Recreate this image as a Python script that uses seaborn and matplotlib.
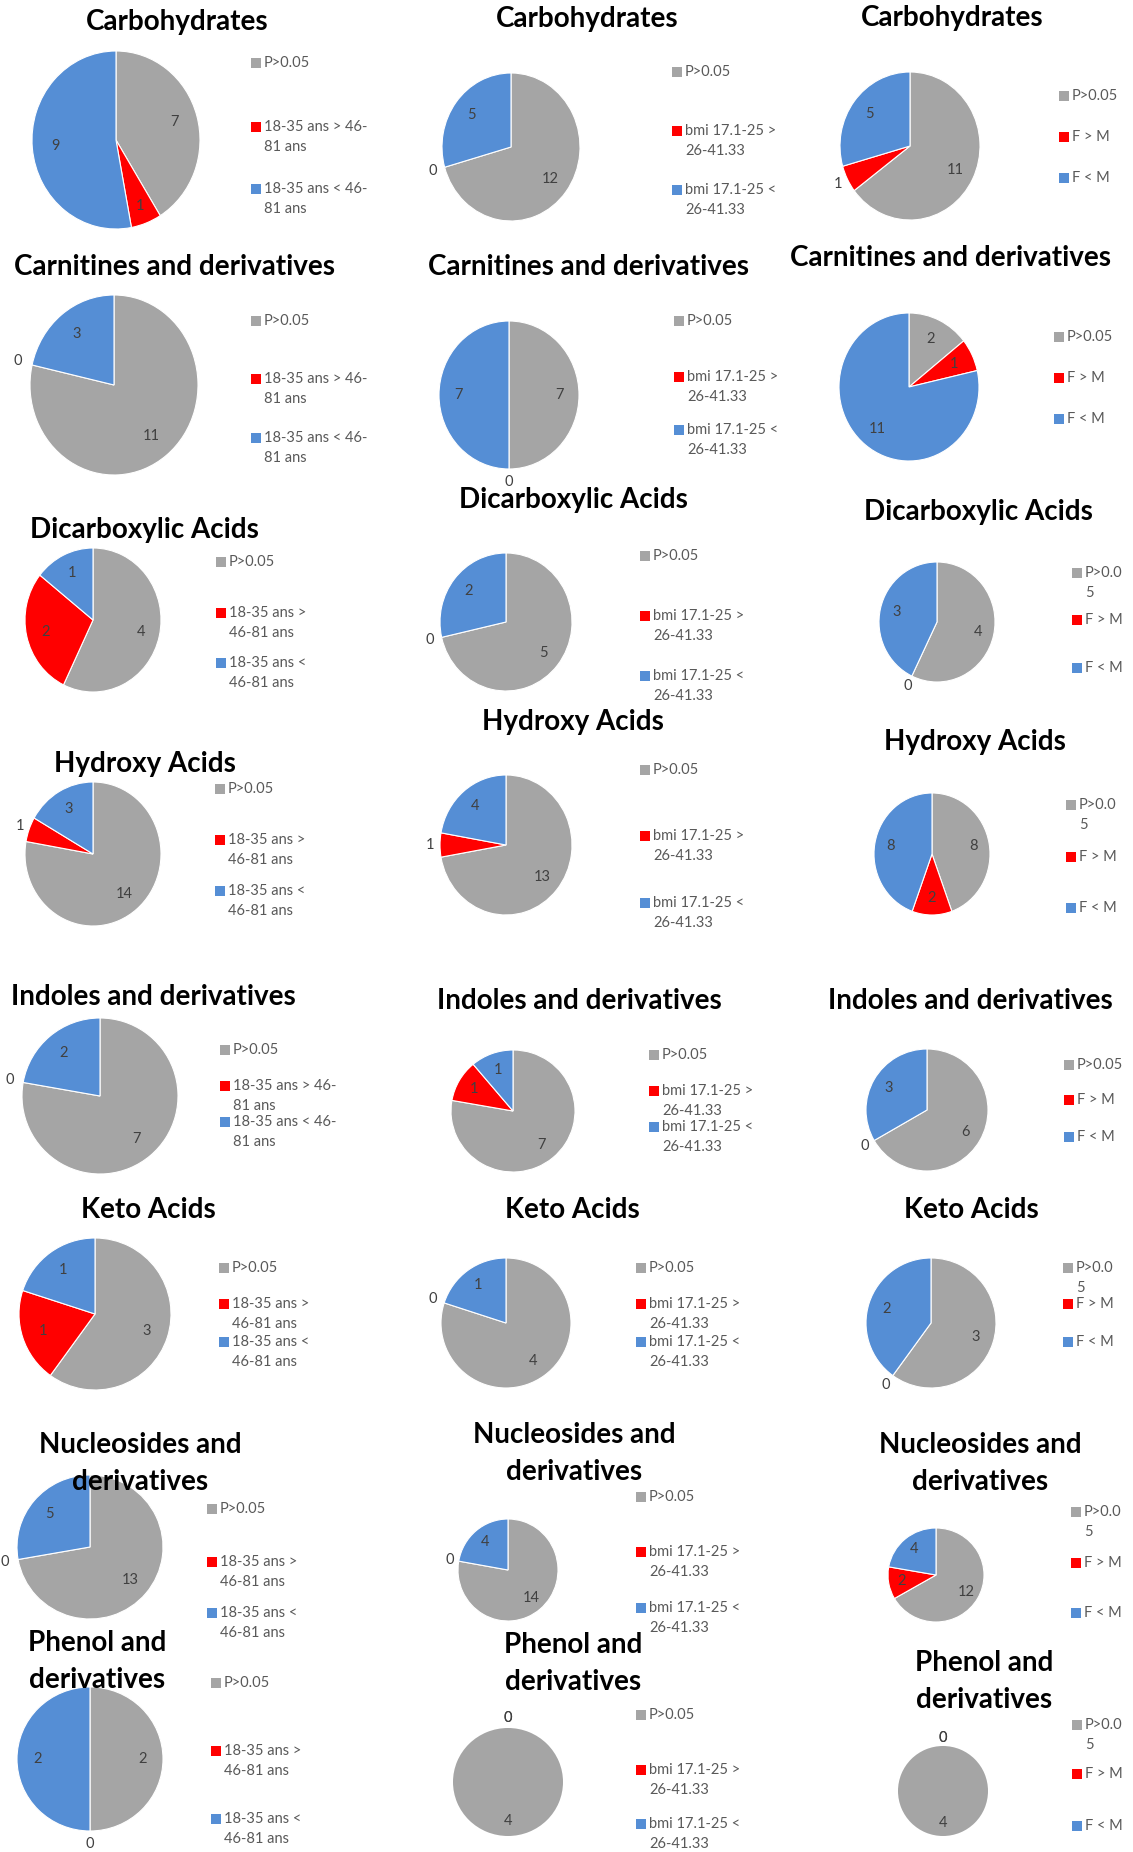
import numpy as np
import matplotlib
matplotlib.use("Agg")
import matplotlib.pyplot as plt
import seaborn as sns

# Données : nombre de métabolites par classe (P>0.05, groupe 1 > groupe 2, groupe 1 < groupe 2)
classes = ["Carbohydrates", "Carnitines and derivatives", "Dicarboxylic Acids", "Hydroxy Acids",
           "Indoles and derivatives", "Keto Acids", "Nucleosides and\nderivatives",
           "Phenol and\nderivatives"]

age_ns = [7, 11, 4, 14, 7, 3, 13, 2]
age_up = [1, 0, 2, 1, 0, 1, 0, 0]
age_down = [9, 3, 1, 3, 2, 1, 5, 2]

bmi_ns = [12, 7, 5, 13, 7, 4, 14, 4]
bmi_up = [0, 0, 0, 1, 1, 0, 0, 0]
bmi_down = [5, 7, 2, 4, 1, 1, 4, 0]

sex_ns = [11, 2, 4, 8, 6, 3, 12, 4]
sex_up = [1, 1, 0, 2, 0, 0, 2, 0]
sex_down = [5, 11, 3, 8, 3, 2, 4, 0]

legend_age_a = ["P>0.05", "18-35 ans > 46-\n81 ans", "18-35 ans < 46-\n81 ans"]
legend_age_b = ["P>0.05", "18-35 ans >\n46-81 ans", "18-35 ans <\n46-81 ans"]
legend_bmi = ["P>0.05", "bmi 17.1-25 >\n26-41.33", "bmi 17.1-25 <\n26-41.33"]
legend_sex_a = ["P>0.05", "F > M", "F < M"]
legend_sex_b = ["P>0.0\n5", "F > M", "F < M"]

colors = ["#A5A5A5", "#FF0000", "#558ED5"]

sns.set_theme(style="white")
plt.rcParams["font.family"] = ["Lato", "DejaVu Sans"]

W, H = 1133, 1852
fig = plt.figure(figsize=(W / 100, H / 100), dpi=100)
fig.patch.set_facecolor("white")

# mise en page (pixels) : titre (x, y), camembert (cx, cy, rx, ry), légende (x, [y1, y2, y3])
layout = [
    [((177, 22), (116, 140, 84, 89), (252, [63, 127, 189])),
     ((587, 19), (511, 147, 69, 74), (673, [72, 131, 190])),
     ((952, 18), (910, 146, 70, 74), (1060, [96, 137, 178]))],
    [((174, 267), (114, 385, 84, 90), (252, [321, 379, 438])),
     ((588, 267), (509, 395, 70, 74), (675, [321, 377, 430])),
     ((951, 258), (909, 387, 70, 74), (1055, [337, 378, 419]))],
    [((144, 530), (93, 620, 68, 72), (217, [562, 613, 663])),
     ((573, 500), (506, 622, 66, 69), (641, [556, 616, 676])),
     ((978, 512), (937, 622, 58, 60), (1073, [573, 620, 668]))],
    [((145, 764), (93, 854, 68, 72), (216, [789, 840, 891])),
     ((573, 722), (506, 845, 66, 70), (641, [770, 836, 903])),
     ((975, 742), (932, 854, 58, 61), (1067, [805, 857, 908]))],
    [((153, 997), (100, 1096, 78, 78), (221, [1050, 1086, 1122])),
     ((579, 1001), (513, 1111, 62, 61), (650, [1055, 1091, 1127])),
     ((970, 1001), (927, 1110, 61, 61), (1065, [1065, 1100, 1137]))],
    [((148, 1210), (95, 1314, 76, 76), (220, [1268, 1304, 1342])),
     ((572, 1210), (506, 1323, 65, 65), (637, [1268, 1304, 1342])),
     ((971, 1210), (931, 1323, 65, 65), (1064, [1268, 1304, 1342]))],
    [((140, 1445), (90, 1547, 73, 72), (208, [1509, 1562, 1613])),
     ((574, 1435), (508, 1570, 50, 51), (637, [1497, 1552, 1608])),
     ((980, 1445), (936, 1575, 48, 47), (1072, [1512, 1563, 1613]))],
    [((97, 1643), (90, 1759, 73, 72), (212, [1683, 1751, 1819])),
     ((573, 1645), (508, 1782, 55, 54), (637, [1715, 1770, 1824])),
     ((984, 1663), (943, 1791, 45, 45), (1073, [1725, 1774, 1826]))],
]

# calque pour titres et légendes
over = fig.add_axes([0, 0, 1, 1])
over.set_xlim(0, W)
over.set_ylim(H, 0)
over.axis("off")
over.set_zorder(10)
over.patch.set_alpha(0)


def draw_pie(values, pos):
    cx, cy, rx, ry = pos
    ax = fig.add_axes([(cx - rx) / W, 1 - (cy + ry) / H, 2 * rx / W, 2 * ry / H])
    wedges, _ = ax.pie(values, colors=colors, startangle=90, counterclock=False,
                       wedgeprops=dict(edgecolor="white", linewidth=0.8))
    ax.set_aspect("auto")
    ax.set_xlim(-1, 1)
    ax.set_ylim(-1, 1)
    total = sum(values)
    for w, v in zip(wedges, values):
        if v == 0 or v == total:
            w.set_linewidth(0)
        ang = np.deg2rad((w.theta1 + w.theta2) / 2)
        frac = v / total
        # étiquettes façon Excel "ajustement optimal"
        if v == 0:
            r = 1.18
        elif frac >= 0.07:
            r = 0.72
        elif np.cos(ang) < -0.3:
            r = 1.15
        else:
            r = 0.8
        ax.text(r * np.cos(ang), r * np.sin(ang), str(v), ha="center", va="center",
                fontsize=10.5, color="#404040", clip_on=False)


def draw_legend(labels, leg):
    x, ys = leg
    for lab, y, c in zip(labels, ys, colors):
        over.scatter([x + 4], [y], marker="s", s=42, color=c, linewidths=0)
        for i, line in enumerate(lab.split("\n")):
            over.text(x + 12, y + i * 20, line, ha="left", va="center",
                      fontsize=10.5, color="#595959")


def draw_title(text, pos):
    x, y = pos
    for i, line in enumerate(text.split("\n")):
        over.text(x, y + i * 37, line, ha="center", va="center",
                  fontsize=20, fontweight="bold", color="black")


for k, name in enumerate(classes):
    col1_leg = legend_age_a if k in (0, 1, 4) else legend_age_b
    col3_leg = legend_sex_a if k in (0, 1, 4) else legend_sex_b
    panels = [
        ([age_ns[k], age_up[k], age_down[k]], col1_leg),
        ([bmi_ns[k], bmi_up[k], bmi_down[k]], legend_bmi),
        ([sex_ns[k], sex_up[k], sex_down[k]], col3_leg),
    ]
    for j, (vals, leg_labels) in enumerate(panels):
        title_pos, pie_pos, leg_pos = layout[k][j]
        draw_pie(vals, pie_pos)
        draw_legend(leg_labels, leg_pos)
        draw_title(name, title_pos)

fig.savefig("out.png", dpi=100, facecolor="white")
